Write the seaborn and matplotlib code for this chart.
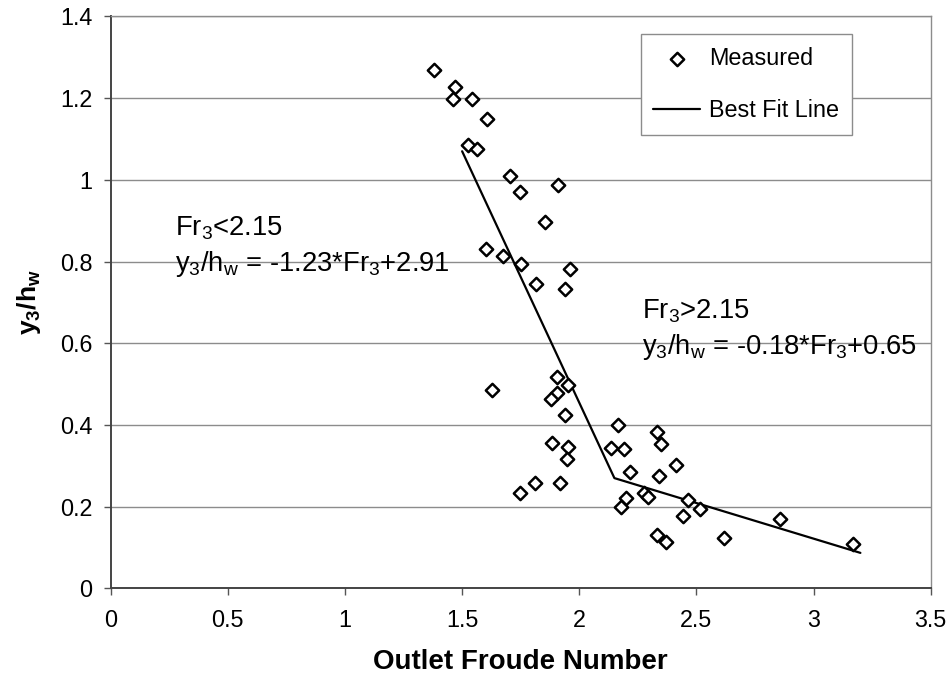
import pandas as pd
import seaborn as sns
import matplotlib.pyplot as plt

# measured points
froude = [1.380, 1.469, 1.461, 1.542, 1.606, 1.526, 1.562, 1.704, 1.747, 1.909,
          1.853, 1.602, 1.674, 1.751, 1.815, 1.960, 1.939, 1.629, 1.906, 1.953,
          1.906, 1.878, 1.939, 1.885, 1.953, 1.949, 1.811, 1.747, 1.918, 2.166,
          2.134, 2.191, 2.216, 2.333, 2.349, 2.411, 2.340, 2.199, 2.178, 2.277,
          2.292, 2.465, 2.515, 2.441, 2.333, 2.369, 2.618, 2.857, 3.167]
ratio = [1.269, 1.227, 1.197, 1.197, 1.149, 1.085, 1.075, 1.010, 0.970, 0.987,
         0.897, 0.831, 0.814, 0.794, 0.746, 0.782, 0.733, 0.486, 0.518, 0.498,
         0.478, 0.464, 0.424, 0.355, 0.345, 0.317, 0.259, 0.234, 0.257, 0.400,
         0.343, 0.341, 0.286, 0.382, 0.353, 0.302, 0.275, 0.221, 0.199, 0.233,
         0.224, 0.216, 0.194, 0.178, 0.131, 0.114, 0.123, 0.169, 0.108]

# best fit line (two segments, break at Fr3 = 2.15)
fit_x = [1.5, 2.15, 3.2]
fit_y = [1.07, 0.27, 0.087]

x_ticks = [0, 0.5, 1, 1.5, 2, 2.5, 3, 3.5]
y_ticks = [0, 0.2, 0.4, 0.6, 0.8, 1, 1.2, 1.4]

sns.set_theme(style='white')
plt.rcParams['font.family'] = ['Liberation Sans', 'DejaVu Sans']
plt.rcParams['mathtext.fontset'] = 'custom'
plt.rcParams['mathtext.rm'] = 'Liberation Sans'
plt.rcParams['mathtext.it'] = 'Liberation Sans'
plt.rcParams['mathtext.bf'] = 'Liberation Sans:bold'
plt.rcParams['text.color'] = 'black'
plt.rcParams['axes.labelcolor'] = 'black'

meas = pd.DataFrame({'Fr': froude, 'y': ratio})
fit = pd.DataFrame({'Fr': fit_x, 'y': fit_y})

fig = plt.figure(figsize=(9.52, 6.85), dpi=100)
ax = fig.add_axes([0.1163, 0.141, 0.8613, 0.835])

ax.yaxis.grid(True, color='#8c8c8c', linewidth=1.0)
ax.set_axisbelow(True)

sns.scatterplot(data=meas, x='Fr', y='y', marker='D', s=46, facecolor='white',
                edgecolor='black', linewidth=1.8, label='Measured', ax=ax, zorder=3)
sns.lineplot(data=fit, x='Fr', y='y', color='black', linewidth=1.6,
             label='Best Fit Line', ax=ax, zorder=2, sort=False)

ax.set_xlim(0, 3.5)
ax.set_ylim(0, 1.4)
ax.set_xticks(x_ticks)
ax.set_xticklabels(['0', '0.5', '1', '1.5', '2', '2.5', '3', '3.5'])
ax.set_yticks(y_ticks)
ax.set_yticklabels(['0', '0.2', '0.4', '0.6', '0.8', '1', '1.2', '1.4'])
ax.tick_params(axis='both', labelsize=16.8, direction='out', length=5, width=1,
               color='#555555', labelcolor='black', bottom=True, left=True)
ax.tick_params(axis='x', pad=10)
ax.tick_params(axis='y', pad=8)

for side in ['left', 'bottom']:
    ax.spines[side].set_color('#444444')
    ax.spines[side].set_linewidth(1.4)
for side in ['right', 'top']:
    ax.spines[side].set_color('#8c8c8c')
    ax.spines[side].set_linewidth(1.0)

ax.set_xlabel('Outlet Froude Number', fontsize=20, fontweight='bold', labelpad=12)
ax.set_ylabel(r'$\mathbf{y_3/h_w}$', fontsize=19, labelpad=12)

ax.text(0.274, 0.863, r'Fr$_3$<2.15', fontsize=19.7, va='baseline')
ax.text(0.274, 0.778, r'y$_3$/h$_\mathrm{w}$ = -1.23*Fr$_3$+2.91', fontsize=19.7, va='baseline')
ax.text(2.266, 0.661, r'Fr$_3$>2.15', fontsize=19.7, va='baseline')
ax.text(2.266, 0.574, r'y$_3$/h$_\mathrm{w}$ = -0.18*Fr$_3$+0.65', fontsize=19.7, va='baseline')

leg = ax.legend(loc='upper right', bbox_to_anchor=(0.9044, 0.969), borderaxespad=0,
                fontsize=16.8, frameon=True, fancybox=False, framealpha=1,
                edgecolor='#8c8c8c', handlelength=2.0, labelspacing=1.25,
                borderpad=0.55, handletextpad=0.4)
leg.get_frame().set_linewidth(1.0)
for t in leg.get_texts():
    t.set_color('black')

fig.savefig('out.png', dpi=100)
